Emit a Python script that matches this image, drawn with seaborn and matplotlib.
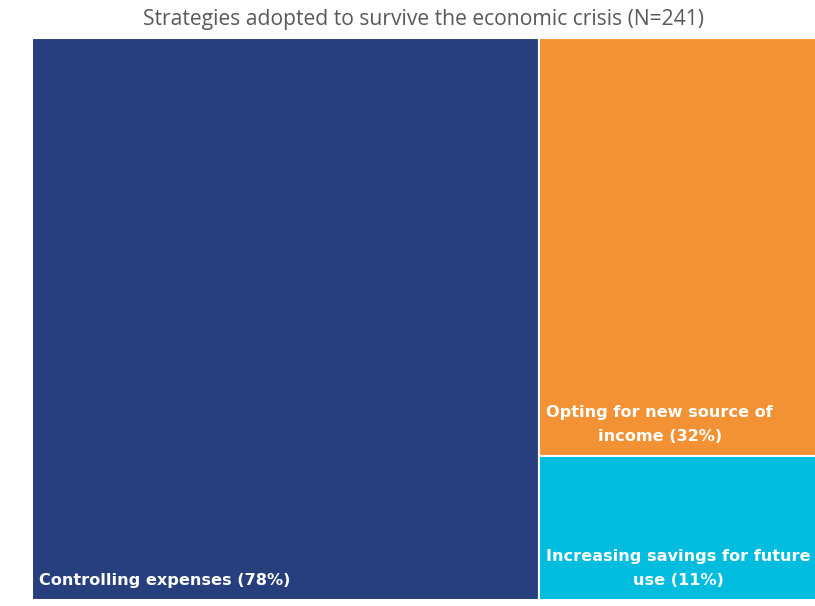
import matplotlib
matplotlib.use("Agg")
import matplotlib.pyplot as plt
import seaborn as sns

# Strategy shares (multiple responses allowed, N=241)
strategies = ["Controlling expenses", "Opting for new source of\nincome", "Increasing savings for future\nuse"]
shares = [78, 32, 11]
colors = ["#283f7d", "#f39234", "#00bde0"]

sns.set_theme(style="white")
plt.rcParams["font.family"] = ["DejaVu Sans"]

fig = plt.figure(figsize=(8.15, 6.06), dpi=100)
ax = fig.add_axes([32 / 815, 6 / 606, 787 / 815, 562 / 606])

# Slice-and-dice layout: the first item takes a full-height column,
# the remaining items are stacked top to bottom in the second column.
total = sum(shares)
first_w = shares[0] / total
rest_total = sum(shares[1:])

rects = [(0.0, 0.0, first_w, 1.0)]
top = 1.0
for v in shares[1:]:
    h = v / rest_total
    rects.append((first_w, top - h, 1 - first_w, h))
    top -= h

for (x, y, w, h), c in zip(rects, colors):
    ax.bar(x, h, width=w, bottom=y, align="edge", color=c,
           edgecolor="white", linewidth=1.5)

pad_x = 7 / 787
pad_y = 12 / 562
for (x, y, w, h), name, v in zip(rects, strategies, shares):
    ax.text(x + pad_x, y + pad_y, f"{name} ({v}%)", ha="left", va="bottom",
            multialignment="center", color="white", fontsize=11.6,
            fontweight="bold", linespacing=1.75)

ax.set_xlim(0, 1)
ax.set_ylim(0, 1)
ax.set_axis_off()
fig.text((32 + 815) / 2 / 815, 1 - 19 / 606,
         "Strategies adopted to survive the economic crisis (N=241)",
         ha="center", va="center", color="#595959", fontsize=15.2,
         family=["Open Sans", "DejaVu Sans"])

fig.savefig("out.png", dpi=100)
